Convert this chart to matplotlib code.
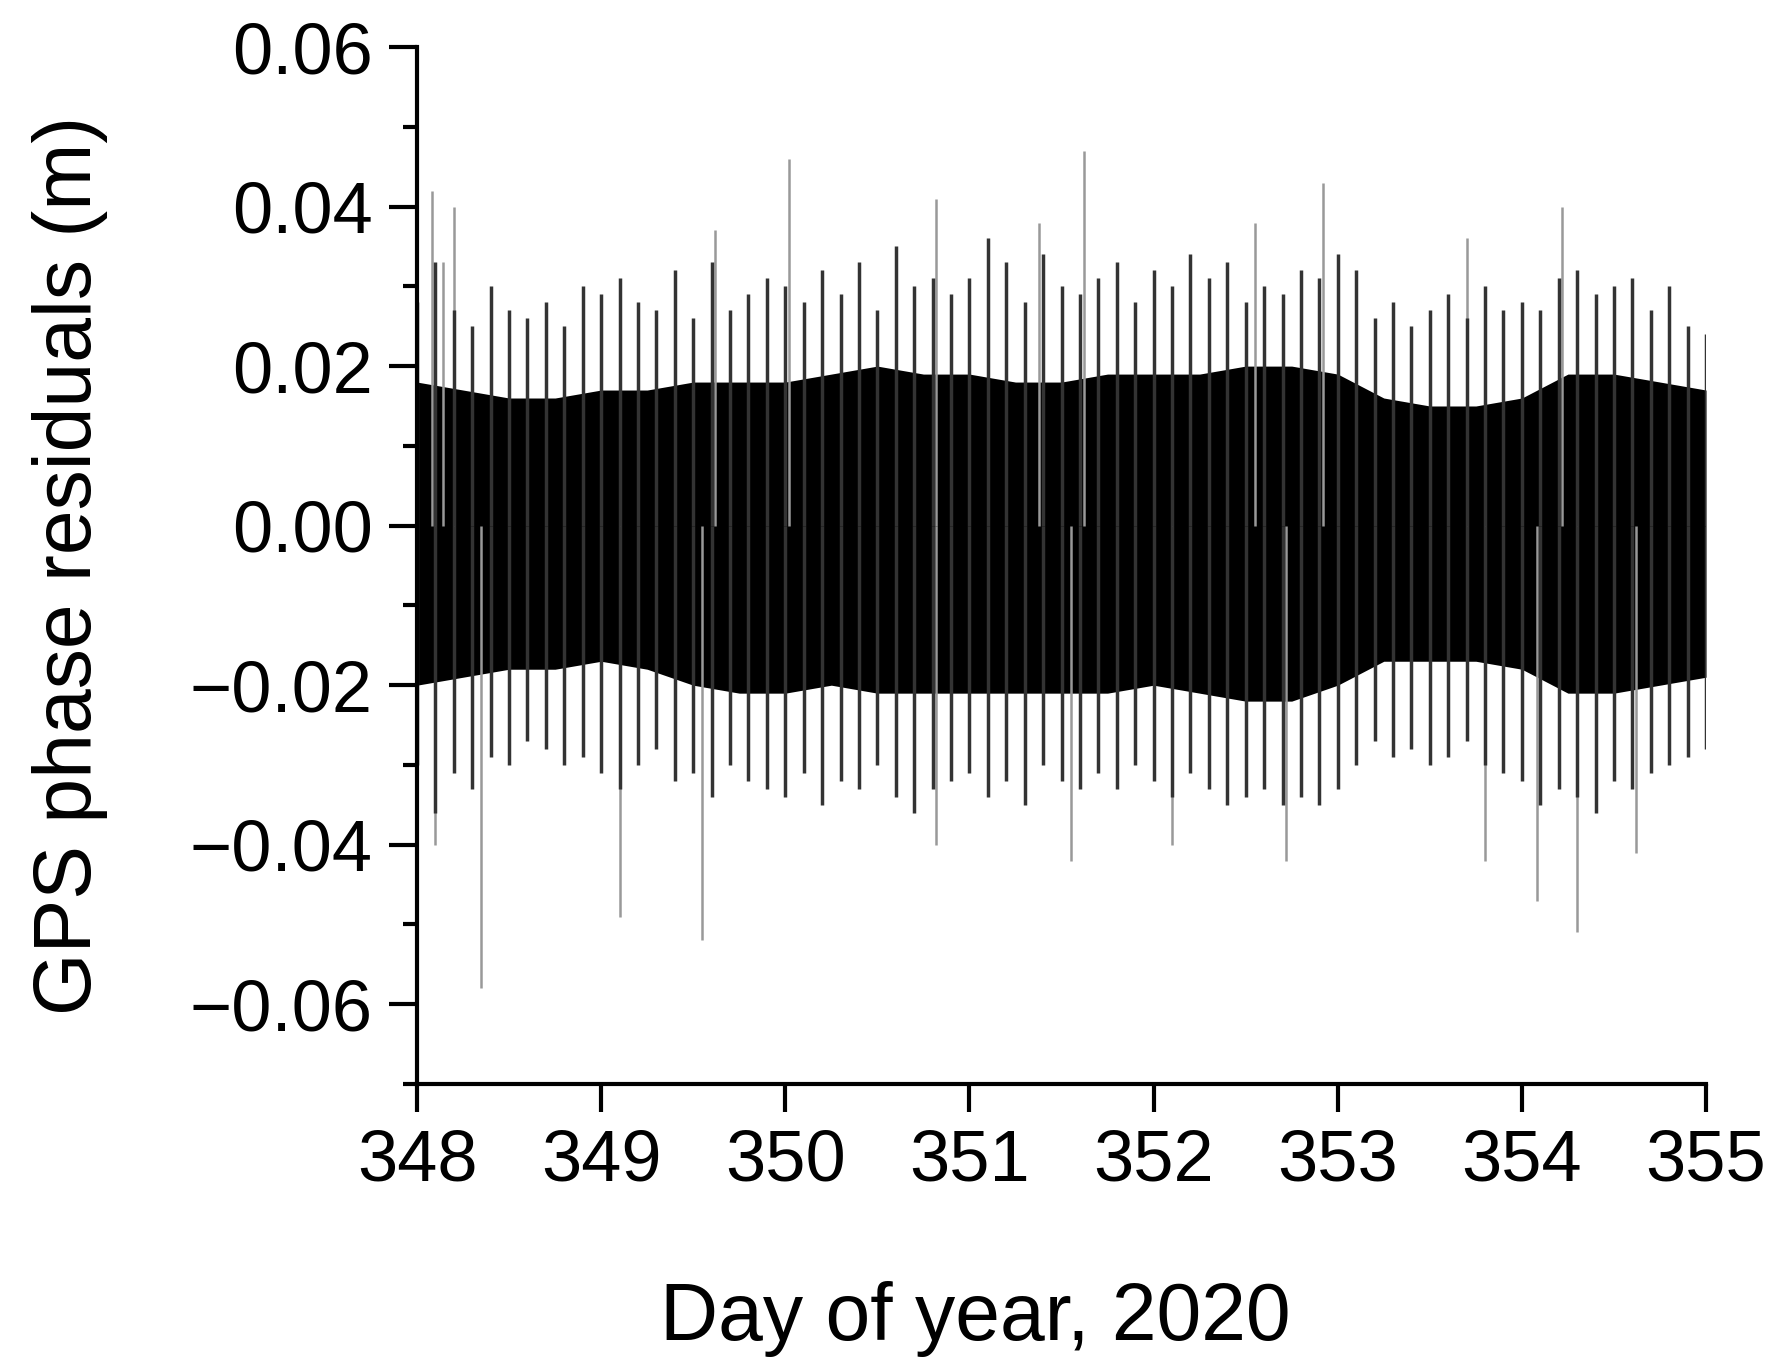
import matplotlib
matplotlib.use("Agg")
import matplotlib.pyplot as plt
import numpy as np

plt.rcParams['font.family'] = ['Liberation Sans', 'DejaVu Sans']

# dense core envelope (read at 0.25-day steps)
core_day = [348.0,348.25,348.5,348.75,349.0,349.25,349.5,349.75,350.0,350.25,350.5,350.75,351.0,351.25,351.5,351.75,352.0,352.25,352.5,352.75,353.0,353.25,353.5,353.75,354.0,354.25,354.5,354.75,355.0]
core_hi  = [0.018,0.017,0.016,0.016,0.017,0.017,0.018,0.018,0.018,0.019,0.020,0.019,0.019,0.018,0.018,0.019,0.019,0.019,0.020,0.020,0.019,0.016,0.015,0.015,0.016,0.019,0.019,0.018,0.017]
core_lo  = [-0.020,-0.019,-0.018,-0.018,-0.017,-0.018,-0.020,-0.021,-0.021,-0.020,-0.021,-0.021,-0.021,-0.021,-0.021,-0.021,-0.020,-0.021,-0.022,-0.022,-0.020,-0.017,-0.017,-0.017,-0.018,-0.021,-0.021,-0.020,-0.019]

# dark fringe extremes (0.1-day steps)
fr_day = [348.0 + 0.1*i for i in range(71)]
fr_hi = [0.028,0.033,0.027,0.025,0.030,0.027,0.026,0.028,0.025,0.030,0.029,0.031,0.028,0.027,0.032,0.026,0.033,0.027,0.029,0.031,0.030,
         0.028,0.032,0.029,0.033,0.027,0.035,0.030,0.031,0.029,0.031,0.036,0.033,0.028,0.034,0.030,0.029,0.031,0.033,0.028,0.032,
         0.030,0.034,0.031,0.033,0.028,0.030,0.029,0.032,0.031,0.034,0.032,0.026,0.028,0.025,0.027,0.029,0.026,0.030,0.027,0.028,
         0.027,0.031,0.032,0.029,0.030,0.031,0.027,0.030,0.025,0.024]
fr_lo = [-0.030,-0.036,-0.031,-0.033,-0.029,-0.030,-0.027,-0.028,-0.030,-0.029,-0.031,-0.033,-0.030,-0.028,-0.032,-0.031,-0.034,-0.030,-0.032,-0.033,-0.034,
         -0.031,-0.035,-0.032,-0.033,-0.030,-0.034,-0.036,-0.033,-0.032,-0.031,-0.034,-0.032,-0.035,-0.030,-0.032,-0.033,-0.031,-0.033,-0.030,-0.032,
         -0.034,-0.031,-0.033,-0.035,-0.034,-0.033,-0.035,-0.034,-0.035,-0.033,-0.030,-0.027,-0.029,-0.028,-0.030,-0.029,-0.027,-0.030,-0.031,-0.032,
         -0.035,-0.033,-0.034,-0.036,-0.032,-0.033,-0.031,-0.030,-0.029,-0.028]

# isolated light-grey spikes
spike_day = [348.08,348.14,348.2,349.62,350.02,350.82,351.38,351.62,352.55,352.92,353.7,354.22,
             348.1,348.35,349.1,349.55,350.82,351.55,352.1,352.72,353.8,354.08,354.3,354.62]
spike_val = [0.042,0.033,0.040,0.037,0.046,0.041,0.038,0.047,0.038,0.043,0.036,0.040,
             -0.040,-0.058,-0.049,-0.052,-0.040,-0.042,-0.040,-0.042,-0.042,-0.047,-0.051,-0.041]

fig = plt.figure(figsize=(17.67, 13.67), dpi=100)
ax = fig.add_axes([0.236, 0.207, 0.7295, 0.7586])

ax.vlines(spike_day, 0, spike_val, color='#999999', lw=1.8)
ax.vlines(fr_day, 0, fr_hi, color='#333333', lw=2.5)
ax.vlines(fr_day, 0, fr_lo, color='#333333', lw=2.5)
ax.fill_between(core_day, core_lo, core_hi, color='black', lw=0)

ax.set_xlim(348, 355)
ax.set_ylim(-0.07, 0.06)
ax.set_xticks(range(348, 356))
ax.set_yticks([-0.06, -0.04, -0.02, 0.0, 0.02, 0.04, 0.06])
ax.set_yticklabels(['\u22120.06', '\u22120.04', '\u22120.02', '0.00', '0.02', '0.04', '0.06'])
ax.set_yticks(np.arange(-0.07, 0.061, 0.01), minor=True)
for s in ['top', 'right']:
    ax.spines[s].set_visible(False)
for s in ['left', 'bottom']:
    ax.spines[s].set_linewidth(3)
ax.tick_params(which='major', length=20, width=3, labelsize=52, pad=12)
ax.tick_params(which='minor', length=10, width=3)
ax.set_xlabel('Day of year, 2020', fontsize=58)
ax.set_ylabel('GPS phase residuals (m)', fontsize=58)
ax.xaxis.set_label_coords(0.433, -0.19)
ax.yaxis.set_label_coords(-0.24, 0.50)

fig.savefig('out.png', dpi=100)
